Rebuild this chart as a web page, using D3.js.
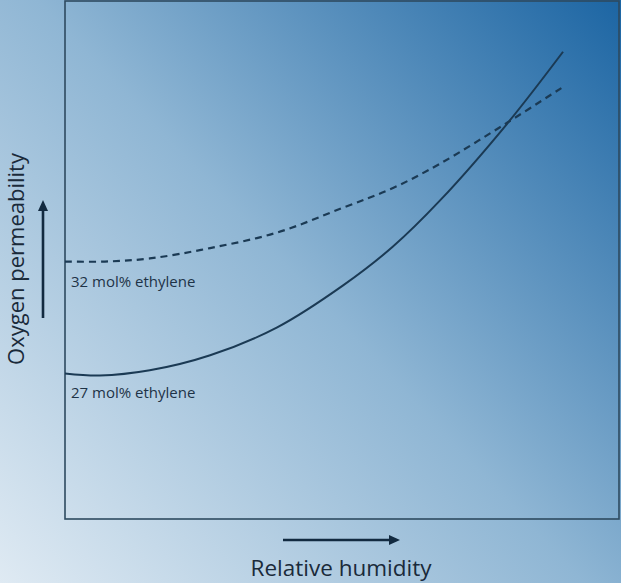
<!DOCTYPE html>
<html><head><meta charset="utf-8">
<script src="https://cdn.jsdelivr.net/npm/d3@7"></script>
<style>html,body{margin:0;padding:0;background:#fff;}svg{display:block;}</style>
</head><body>
<svg id="chart" width="621" height="583"></svg>
<script>
// Relative humidity (arbitrary 0-100) and oxygen permeability (arbitrary 0-100)
const humidity27 = [0, 6.3, 15.3, 26.2, 38.3, 50.2, 59.2, 67.7, 79.8, 89.9];
const permeability27 = [28.1, 27.7, 28.7, 31.6, 37.0, 45.1, 52.6, 61.5, 76.3, 90.2];
const humidity32 = [0, 7.2, 15.3, 26.2, 38.3, 50.2, 59.2, 67.7, 79.8, 89.9];
const permeability32 = [49.7, 49.7, 50.3, 52.3, 55.3, 60.1, 63.9, 68.6, 76.5, 83.4];
const seriesLabels = ["27 mol% ethylene", "32 mol% ethylene"];
const xTitle = "Relative humidity";
const yTitle = "Oxygen permeability";

const W = 621, H = 583;
const svg = d3.select("#chart");
const defs = svg.append("defs");
const grad = defs.append("linearGradient").attr("id","bg")
  .attr("gradientUnits","userSpaceOnUse")
  .attr("x1",0).attr("y1",H).attr("x2",W).attr("y2",0);
grad.append("stop").attr("offset",0).attr("stop-color","#dfeaf3");
grad.append("stop").attr("offset",0.5).attr("stop-color","#8fb6d4");
grad.append("stop").attr("offset",1).attr("stop-color","#1c65a3");
svg.append("rect").attr("width",W).attr("height",H).attr("fill","url(#bg)");

const m = {left:65, right:619, top:1, bottom:519};
const x = d3.scaleLinear().domain([0,100]).range([m.left, m.right]);
const y = d3.scaleLinear().domain([0,100]).range([m.bottom, m.top]);

svg.append("rect").attr("x",m.left).attr("y",m.top)
  .attr("width",m.right-m.left).attr("height",m.bottom-m.top)
  .attr("fill","none").attr("stroke","#2e4a60").attr("stroke-width",1.6);

const line = d3.line().x(d=>x(d[0])).y(d=>y(d[1])).curve(d3.curveCatmullRom.alpha(0.5));
const d27 = humidity27.map((h,i)=>[h, permeability27[i]]);
const d32 = humidity32.map((h,i)=>[h, permeability32[i]]);

svg.append("path").attr("d",line(d27)).attr("fill","none")
  .attr("stroke","#1b3a54").attr("stroke-width",2);
svg.append("path").attr("d",line(d32)).attr("fill","none")
  .attr("stroke","#1b3a54").attr("stroke-width",2.2).attr("stroke-dasharray","7,5");

const font = "'Open Sans', 'Noto Sans', sans-serif";
svg.append("text").attr("x",71).attr("y",y(permeability32[0])+25)
  .attr("font-family",font).attr("font-size",15).attr("fill","#1e3347").text(seriesLabels[1]);
svg.append("text").attr("x",71).attr("y",y(permeability27[0])+25)
  .attr("font-family",font).attr("font-size",15).attr("fill","#1e3347").text(seriesLabels[0]);

// axis titles
svg.append("text").attr("x",341).attr("y",576).attr("text-anchor","middle")
  .attr("font-family",font).attr("font-size",22.5).attr("fill","#1a2a3a").text(xTitle);
svg.append("text").attr("transform","translate(23.5,259) rotate(-90)").attr("text-anchor","middle")
  .attr("font-family",font).attr("font-size",22).attr("fill","#1a2a3a").text(yTitle);

// arrows
const ac = "#122a40";
svg.append("line").attr("x1",43).attr("y1",318).attr("x2",43).attr("y2",210)
  .attr("stroke",ac).attr("stroke-width",2.6);
svg.append("path").attr("d","M43,200 L38,211 L48,211 Z").attr("fill",ac);
svg.append("line").attr("x1",283).attr("y1",540).attr("x2",390).attr("y2",540)
  .attr("stroke",ac).attr("stroke-width",2.6);
svg.append("path").attr("d","M400,540 L389,535 L389,545 Z").attr("fill",ac);
</script>
</body></html>
